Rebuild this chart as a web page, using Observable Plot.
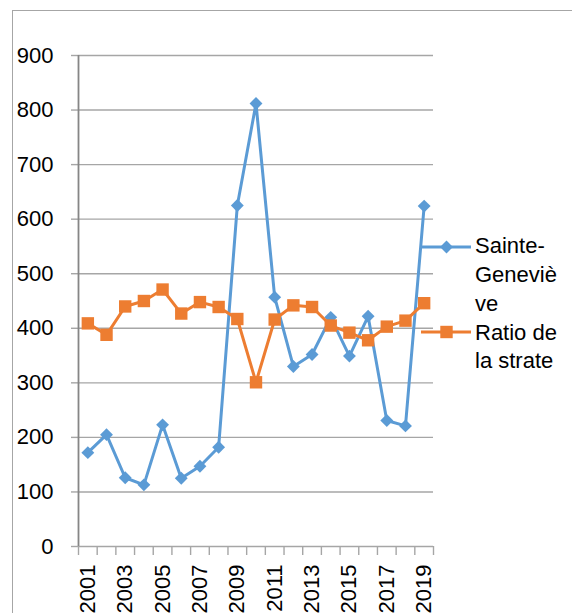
<!DOCTYPE html>
<html>
<head>
<meta charset="utf-8">
<script src="https://cdn.jsdelivr.net/npm/d3@7"></script>
<script src="https://cdn.jsdelivr.net/npm/@observablehq/plot@0.6"></script>
<style>
  html, body { margin: 0; padding: 0; background: #fff; }
  #wrap { position: relative; width: 572px; height: 613px; overflow: hidden; font-family: "Liberation Sans", Arial, sans-serif; }
  #frame { position: absolute; left: 12px; top: 10px; width: 700px; height: 800px; border: 1px solid #a6a6a6; box-sizing: border-box; pointer-events: none; }
  #chart { position: absolute; left: 0; top: 0; }
  .legend-swatch { position: absolute; }
  #legendText { position: absolute; left: 475px; top: 232.4px; font-size: 22px; line-height: 28.7px; color: #000; white-space: nowrap; }
</style>
</head>
<body>
<div id="wrap">
  <div id="frame"></div>
  <div id="chart"></div>
  <div id="legend"></div>
</div>
<script>
const years = [2001, 2002, 2003, 2004, 2005, 2006, 2007, 2008, 2009, 2010, 2011, 2012, 2013, 2014, 2015, 2016, 2017, 2018, 2019];
const sainteGenevieve = [172, 205, 126, 113, 223, 125, 147, 182, 625, 812, 457, 330, 352, 420, 349, 422, 231, 221, 624];
const ratioStrate = [409, 388, 440, 450, 471, 427, 448, 439, 417, 301, 416, 442, 439, 405, 392, 378, 403, 414, 446];
const yTicks = [0, 100, 200, 300, 400, 500, 600, 700, 800, 900];
const xTickLabels = [2001, 2003, 2005, 2007, 2009, 2011, 2013, 2015, 2017, 2019];
const seriesNames = ["Sainte-Geneviève", "Ratio de la strate"];
const colors = ["#5B9BD5", "#ED7D31"];

const blue = years.map((y, i) => ({year: y, value: sainteGenevieve[i]}));
const orange = years.map((y, i) => ({year: y, value: ratioStrate[i]}));
const boundaries = [...years.map(y => y - 0.5), years[years.length - 1] + 0.5];

const chart = Plot.plot({
  width: 572,
  height: 613,
  marginLeft: 78,
  marginRight: 139,
  marginTop: 55,
  marginBottom: 67,
  style: {fontFamily: "Liberation Sans, Arial, sans-serif", fontSize: "22px", color: "#000", background: "transparent", overflow: "visible"},
  x: {type: "linear", domain: [boundaries[0], boundaries[boundaries.length - 1]]},
  y: {domain: [0, 900]},
  marks: [
    Plot.gridY(yTicks, {stroke: "#a6a6a6", strokeOpacity: 1, strokeWidth: 1.4}),
    Plot.axisY(yTicks, {tickSize: 7, tickPadding: 18, stroke: "#a6a6a6", strokeWidth: 1.4, fill: "#000", label: null}),
    Plot.axisX(boundaries, {tickSize: 9, tickPadding: 0, stroke: "#a6a6a6", strokeWidth: 1.4, tickFormat: () => "", label: null}),
    Plot.axisX(xTickLabels, {tickSize: 0, tickPadding: 18, tickRotate: -90, textAnchor: "end", fill: "#000", tickFormat: d => String(d), label: null}),
    Plot.ruleX([boundaries[0]], {stroke: "#868686", strokeWidth: 1.8}),
    Plot.line(blue, {x: "year", y: "value", stroke: colors[0], strokeWidth: 3}),
    Plot.dot(blue, {x: "year", y: "value", symbol: "diamond2", r: 5.8, fill: colors[0], stroke: null}),
    Plot.line(orange, {x: "year", y: "value", stroke: colors[1], strokeWidth: 3}),
    Plot.dot(orange, {x: "year", y: "value", symbol: "square", r: 7, fill: colors[1], stroke: null})
  ]
});
document.getElementById("chart").appendChild(chart);

// Legend
const legend = document.getElementById("legend");
const swatchY = [246.7, 331.7];
const symbols = ["diamond2", "square"];
const sizes = [Math.PI * 5.8 * 5.8, Math.PI * 7 * 7];
seriesNames.forEach((name, i) => {
  const svg = d3.create("svg").attr("class", "legend-swatch")
    .attr("width", 52).attr("height", 20)
    .style("left", "420px").style("top", (swatchY[i] - 10) + "px");
  svg.append("line").attr("x1", 1).attr("x2", 51).attr("y1", 10).attr("y2", 10)
    .attr("stroke", colors[i]).attr("stroke-width", 3);
  const sym = symbols[i] === "square" ? d3.symbolSquare : d3.symbolDiamond2;
  svg.append("path").attr("d", d3.symbol(sym, sizes[i])()).attr("transform", "translate(26.5,10)")
    .attr("fill", colors[i]);
  legend.appendChild(svg.node());
});
const lt = document.createElement("div");
lt.id = "legendText";
lt.innerHTML = "Sainte-<br>Geneviè<br>ve<br>Ratio de<br>la strate";
legend.appendChild(lt);
</script>
</body>
</html>
